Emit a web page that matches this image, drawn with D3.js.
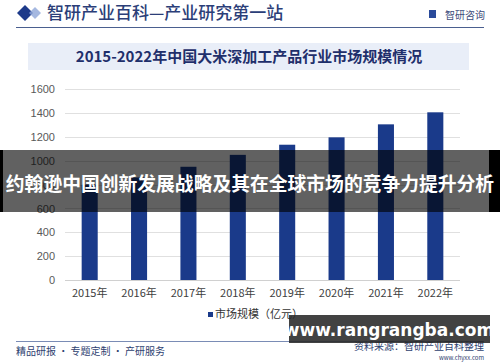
<!DOCTYPE html>
<html><head><meta charset="utf-8">
<script src="https://cdn.jsdelivr.net/npm/d3@7"></script>
<style>html,body{margin:0;padding:0;background:#fff;}svg{display:block;}</style>
</head><body>
<svg id="c" width="500" height="362"></svg>
<script>
const years = ["2015年","2016年","2017年","2018年","2019年","2020年","2021年","2022年"];
const marketSize = [800, 860, 950, 1050, 1135, 1197, 1306, 1407];
const yTicks = [0,200,400,600,800,1000,1200,1400,1600];
const headerTitle = "智研产业百科—产业研究第一站";
const chartTitle = "2015-2022年中国大米深加工产品行业市场规模情况";
const legendLabel = "市场规模（亿元）";
const bannerText = "约翰逊中国创新发展战略及其在全球市场的竞争力提升分析";
const siteText = "www.rangrangba.com";

const svg = d3.select("#c");
const font = "'Noto Sans CJK SC','Noto Sans',sans-serif";

// header
svg.append("path").attr("d","M17,13 L25,5 L33,13 L25,21 Z").attr("fill","#1d3a8a");
svg.append("path").attr("d","M29,13 L35,7 L41,13 L35,19 Z").attr("fill","#8fa6d8").attr("opacity",0.8);
svg.append("text").attr("x",47).attr("y",19).attr("font-family",font)
  .attr("font-size",17).attr("font-weight",500).attr("fill","#2b3e78").text(headerTitle);
svg.append("rect").attr("x",429).attr("y",10).attr("width",7).attr("height",8).attr("fill","#2a4a9a");
svg.append("text").attr("x",445).attr("y",19).attr("font-family",font).attr("font-size",10)
  .attr("fill","#3a4a7a").text("智研咨询");
svg.append("line").attr("x1",16).attr("x2",484).attr("y1",27.5).attr("y2",27.5)
  .attr("stroke","#4a5f8f").attr("stroke-width",1);

// chart title box
svg.append("rect").attr("x",28).attr("y",43).attr("width",441).attr("height",27).attr("fill","#e9eef8");
svg.append("text").attr("x",249).attr("y",62).attr("text-anchor","middle").attr("font-family",font)
  .attr("font-size",15).attr("font-weight","bold").attr("fill","#1f2f6b").text(chartTitle);

// scales
const x = d3.scaleBand().domain(years).range([65,460]).paddingInner(0.675).paddingOuter(0.3375);
const y = d3.scaleLinear().domain([0,1600]).range([280,89.3]);

// grid
svg.append("g").selectAll("line").data(yTicks).join("line")
  .attr("x1",65).attr("x2",460).attr("y1",d=>Math.round(y(d))+0.5).attr("y2",d=>Math.round(y(d))+0.5)
  .attr("stroke",d=>d===0?"#d0d0d0":"#e0e0e0").attr("stroke-width",1);

// y axis
const ya = d3.axisLeft(y).tickValues(yTicks).tickFormat(d3.format("d")).tickSize(0).tickPadding(0);
const yg = svg.append("g").attr("transform","translate(55,0)").call(ya);
yg.select(".domain").remove();
yg.selectAll("text").attr("font-family","Arial,'Liberation Sans',sans-serif").attr("font-size",11).attr("fill","#595959");

// bars
svg.append("g").selectAll("rect").data(marketSize).join("rect")
  .attr("x",(d,i)=>x(years[i])).attr("width",x.bandwidth())
  .attr("y",d=>y(d)).attr("height",d=>y(0)-y(d)).attr("fill","#1a3a8a");

// x axis
const xa = d3.axisBottom(x).tickSize(0).tickPadding(9);
const xg = svg.append("g").attr("transform","translate(0,280)").call(xa);
xg.select(".domain").remove();
xg.selectAll("text").attr("font-family",font).attr("font-size",11).attr("fill","#404040");

// legend
svg.append("rect").attr("x",208).attr("y",312).attr("width",5).attr("height",5).attr("fill","#1a3a8a");
svg.append("text").attr("x",215).attr("y",318).attr("font-family",font).attr("font-size",11)
  .attr("fill","#333").text(legendLabel);

// footer
svg.append("line").attr("x1",16).attr("x2",484).attr("y1",341.5).attr("y2",341.5)
  .attr("stroke","#7a8cb5").attr("stroke-width",1);
svg.append("text").attr("x",16).attr("y",355).attr("font-family",font).attr("font-size",10)
  .attr("fill","#2e4170").text("精品研报 · 专题定制 · 产研服务");
svg.append("text").attr("x",484).attr("y",350).attr("text-anchor","end").attr("font-family",font).attr("font-size",10)
  .attr("fill","#2e4170").text("资料来源：智研产业百科整理");
svg.append("text").attr("x",484).attr("y",360).attr("text-anchor","end").attr("font-family",font).attr("font-size",6)
  .attr("fill","#2e4170").text("www.chyxx.com");

// overlay banner
svg.append("rect").attr("x",0).attr("y",150).attr("width",500).attr("height",62).attr("fill","rgba(0,0,0,0.62)");
svg.append("rect").attr("x",0).attr("y",150).attr("width",3).attr("height",62).attr("fill","#000");
svg.append("rect").attr("x",489).attr("y",150).attr("width",11).attr("height",62).attr("fill","#000");
svg.append("text").attr("x",250).attr("y",191).attr("text-anchor","middle").attr("font-family",font)
  .attr("font-size",18.8).attr("font-weight","bold").attr("fill","#fff").text(bannerText);

// site box
svg.append("rect").attr("x",289).attr("y",315).attr("width",201).attr("height",28).attr("fill","rgba(40,40,40,0.88)");
svg.append("text").attr("x",389).attr("y",336).attr("text-anchor","middle").attr("font-family","'DejaVu Sans',sans-serif")
  .attr("font-size",17).attr("font-weight","bold").attr("fill","#fff").text(siteText);
</script>
</body></html>
